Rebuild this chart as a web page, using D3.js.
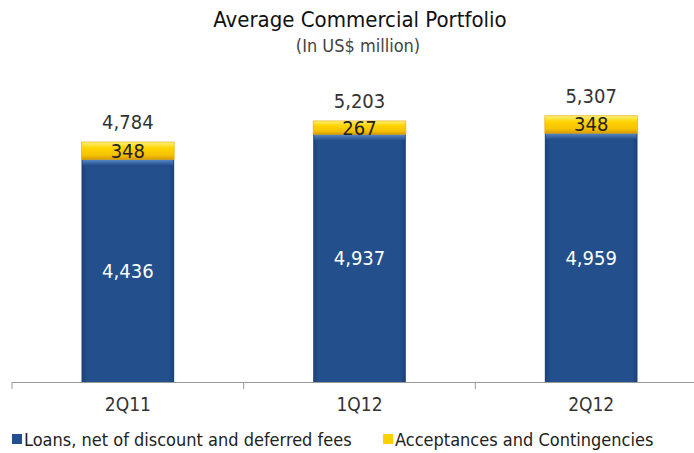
<!DOCTYPE html>
<html lang="en">
<head>
<meta charset="UTF-8">
<title>Average Commercial Portfolio</title>
<script src="https://cdn.jsdelivr.net/npm/d3@7"></script>
<style>
    body { margin: 0; background: #fff; }
    text { font-family: "Liberation Sans Narrow", "DejaVu Sans Condensed", sans-serif; }
</style>
</head>
<body>
<svg width="694" height="453"></svg>
<script>
    var categories = ["2Q11", "1Q12", "2Q12"];
    var loans = [4436, 4937, 4959];
    var acceptances = [348, 267, 348];
    var totals = [4784, 5203, 5307];
    var seriesNames = ["Loans, net of discount and deferred fees", "Acceptances and Contingencies"];

    var svg = d3.select("svg");
    var fmt = d3.format(",");

    var x = d3.scaleBand().domain(categories).range([12, 707]).paddingInner(0.6).paddingOuter(0.3);
    var y = d3.scaleLinear().domain([0, 6000]).range([382, 81]);

    // gradients
    var defs = svg.append("defs");
    var gb = defs.append("linearGradient").attr("id", "gBlue").attr("x1", 0).attr("x2", 1).attr("y1", 0).attr("y2", 0);
    gb.append("stop").attr("offset", "0%").attr("stop-color", "#1b4278");
    gb.append("stop").attr("offset", "6%").attr("stop-color", "#234f8c");
    gb.append("stop").attr("offset", "94%").attr("stop-color", "#234f8c");
    gb.append("stop").attr("offset", "100%").attr("stop-color", "#1b4278");
    var gt = defs.append("linearGradient").attr("id", "gBlueTop").attr("x1", 0).attr("x2", 0).attr("y1", 0).attr("y2", 1);
    gt.append("stop").attr("offset", "0%").attr("stop-color", "#5b8ac6");
    gt.append("stop").attr("offset", "100%").attr("stop-color", "#234f8c");
    var gy = defs.append("linearGradient").attr("id", "gYellow").attr("x1", 0).attr("x2", 0).attr("y1", 0).attr("y2", 1);
    gy.append("stop").attr("offset", "0%").attr("stop-color", "#fff07a");
    gy.append("stop").attr("offset", "35%").attr("stop-color", "#ffd400");
    gy.append("stop").attr("offset", "75%").attr("stop-color", "#f5c200");
    gy.append("stop").attr("offset", "100%").attr("stop-color", "#d99a00");

    // title
    svg.append("text").attr("x", 360).attr("y", 27).attr("text-anchor", "middle")
        .attr("font-size", 22).attr("fill", "#111").text("Average Commercial Portfolio");
    svg.append("text").attr("x", 358).attr("y", 52).attr("text-anchor", "middle")
        .attr("font-size", 18).attr("fill", "#444").text("(In US$ million)");

    var g = svg.append("g");

    // loans bars
    g.selectAll(".loan").data(categories).join("rect")
        .attr("x", function (d) { return x(d); })
        .attr("width", x.bandwidth())
        .attr("y", function (d, i) { return y(loans[i]); })
        .attr("height", function (d, i) { return y(0) - y(loans[i]); })
        .attr("fill", "url(#gBlue)");
    g.selectAll(".loanTop").data(categories).join("rect")
        .attr("x", function (d) { return x(d) + 1; })
        .attr("width", x.bandwidth() - 2)
        .attr("y", function (d, i) { return y(loans[i]); })
        .attr("height", 6)
        .attr("fill", "url(#gBlueTop)");

    // acceptances bars
    g.selectAll(".acc").data(categories).join("rect")
        .attr("x", function (d) { return x(d); })
        .attr("width", x.bandwidth())
        .attr("y", function (d, i) { return y(loans[i] + acceptances[i]); })
        .attr("height", function (d, i) { return y(loans[i]) - y(loans[i] + acceptances[i]); })
        .attr("fill", "url(#gYellow)")
        .attr("stroke", "#e0a800").attr("stroke-width", 0.6);

    // value labels
    g.selectAll(".lblLoan").data(categories).join("text")
        .attr("x", function (d) { return x(d) + x.bandwidth() / 2; })
        .attr("y", function (d, i) { return (y(0) + y(loans[i])) / 2 + 7; })
        .attr("text-anchor", "middle").attr("font-size", 20).attr("fill", "#fff")
        .text(function (d, i) { return fmt(loans[i]); });
    g.selectAll(".lblAcc").data(categories).join("text")
        .attr("x", function (d) { return x(d) + x.bandwidth() / 2; })
        .attr("y", function (d, i) { return (y(loans[i]) + y(loans[i] + acceptances[i])) / 2 + 7; })
        .attr("text-anchor", "middle").attr("font-size", 20).attr("fill", "#222")
        .text(function (d, i) { return fmt(acceptances[i]); });
    g.selectAll(".lblTot").data(categories).join("text")
        .attr("x", function (d) { return x(d) + x.bandwidth() / 2; })
        .attr("y", function (d, i) { return y(totals[i]) - 13; })
        .attr("text-anchor", "middle").attr("font-size", 20).attr("fill", "#333")
        .text(function (d, i) { return fmt(totals[i]); });

    // x axis
    var ax = svg.append("g").attr("transform", "translate(0,382)")
        .call(d3.axisBottom(x).tickSize(0).tickPadding(16));
    ax.select(".domain").attr("stroke", "#9a9a9a").attr("d", "M12,0.5H694");
    ax.selectAll("text").attr("font-size", 19).attr("fill", "#333")
        .style("font-family", "'Liberation Sans Narrow', 'DejaVu Sans Condensed', sans-serif");
    var bounds = [12].concat(categories.map(function (d) { return x(d) + x.bandwidth() / 2 + x.step() / 2; }));
    ax.selectAll(".bnd").data(bounds).join("line")
        .attr("x1", function (d) { return d; }).attr("x2", function (d) { return d; })
        .attr("y1", 0).attr("y2", 7).attr("stroke", "#9a9a9a");

    // legend
    var legendColors = ["#234f8c", "#ffd000"];
    var legendX = [12, 383];
    var lg = svg.append("g").attr("transform", "translate(0,440)");
    lg.selectAll("rect").data(seriesNames).join("rect")
        .attr("x", function (d, i) { return legendX[i]; }).attr("y", -6)
        .attr("width", 10).attr("height", 10)
        .attr("fill", function (d, i) { return legendColors[i]; });
    lg.selectAll("text").data(seriesNames).join("text")
        .attr("x", function (d, i) { return legendX[i] + 12; }).attr("y", 6)
        .attr("font-size", 18).attr("fill", "#222")
        .text(function (d) { return d; });
</script>
</body>
</html>
